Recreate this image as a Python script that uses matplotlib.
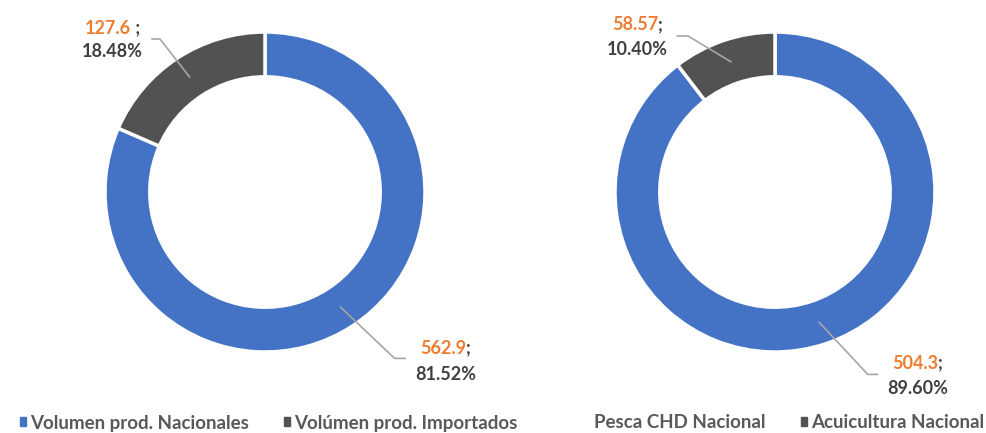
import matplotlib
matplotlib.use("Agg")
import matplotlib.pyplot as plt
from matplotlib.patches import Patch
import numpy as np

plt.rcParams['font.family'] = ['Lato', 'DejaVu Sans']

# ---- data ----
left_labels = ["Volumen prod. Nacionales", "Volúmen prod. Importados"]
left_values = [562.9, 127.6]
left_pcts = ["81.52%", "18.48%"]
left_value_text = ["562.9", "127.6"]
left_sep = [";", " ;"]

right_labels = ["Pesca CHD Nacional", "Acuicultura Nacional"]
right_values = [504.3, 58.57]
right_pcts = ["89.60%", "10.40%"]
right_value_text = ["504.3", "58.57"]
right_sep = [";", ";"]

BLUE = "#4472C4"
GRAY = "#525252"
ORANGE = "#ED7D31"
DARK = "#404040"
LEG = "#595959"
LINE = "#A6A6A6"

W, H = 987, 433
fig = plt.figure(figsize=(W / 100, H / 100), dpi=100)

def px_axes(cx, cy, r):
    return fig.add_axes([(cx - r) / W, (H - cy - r) / H, 2 * r / W, 2 * r / H])

axL = px_axes(265, 192, 160)
axR = px_axes(775, 192, 160)

# label layout: (elbow, end, text center x, line1 y, line2 y) in data units
layoutL = [
    dict(elbow=(0.81, -1.04), end=(0.875, -1.04), cx=1.13, y1=-0.975, y2=-1.14),
    dict(elbow=(-0.656, 0.956), end=(-0.706, 0.956), cx=-0.955, y1=1.025, y2=0.88),
]
layoutR = [
    dict(elbow=(0.58, -1.14), end=(0.64, -1.14), cx=0.89, y1=-1.07, y2=-1.225),
    dict(elbow=(-0.544, 0.975), end=(-0.61, 0.975), cx=-0.86, y1=1.045, y2=0.89),
]

FS = 13
texts_to_fix = []

def draw_donut(ax, values, vtexts, seps, pcts, layout):
    wedges, _ = ax.pie(values, colors=[BLUE, GRAY], startangle=90, counterclock=False,
                       radius=1.0, wedgeprops=dict(width=0.28, edgecolor="white", linewidth=2.5))
    ax.set_xlim(-1, 1)
    ax.set_ylim(-1, 1)
    ax.set_aspect("equal")
    ax.axis("off")
    for w, vt, sp, pc, lay in zip(wedges, vtexts, seps, pcts, layout):
        ang = np.deg2rad((w.theta1 + w.theta2) / 2)
        r0 = 0.86
        sx, sy = r0 * np.cos(ang), r0 * np.sin(ang)
        ax.plot([sx, lay["elbow"][0], lay["end"][0]], [sy, lay["elbow"][1], lay["end"][1]],
                color=LINE, lw=1.2, clip_on=False, zorder=5)
        t1 = ax.text(lay["cx"], lay["y1"], vt, color=ORANGE, fontsize=FS, fontweight="bold",
                     ha="left", va="center", clip_on=False)
        t2 = ax.text(lay["cx"], lay["y1"], sp, color=DARK, fontsize=FS, fontweight="bold",
                     ha="left", va="center", clip_on=False)
        ax.text(lay["cx"], lay["y2"], pc, color=DARK, fontsize=FS, fontweight="bold",
                ha="center", va="center", clip_on=False)
        texts_to_fix.append((ax, t1, t2, lay["cx"], lay["y1"]))

draw_donut(axL, left_values, left_value_text, left_sep, left_pcts, layoutL)
draw_donut(axR, right_values, right_value_text, right_sep, right_pcts, layoutR)

# center the two-colour first line
fig.canvas.draw()
rend = fig.canvas.get_renderer()
for ax, t1, t2, cx, y in texts_to_fix:
    w1 = t1.get_window_extent(rend).width
    w2 = t2.get_window_extent(rend).width
    cxp, cyp = ax.transData.transform((cx, y))
    left = cxp - (w1 + w2) / 2
    inv = ax.transData.inverted()
    t1.set_position(inv.transform((left, cyp)))
    t2.set_position(inv.transform((left + w1, cyp)))

# legends
hL = [Patch(color=BLUE), Patch(color=GRAY)]
hR = [Patch(color="white"), Patch(color=GRAY)]
legkw = dict(ncol=2, frameon=False, handlelength=0.33, handleheight=0.33, handletextpad=0.22,
             columnspacing=1.85, prop=dict(size=13.5, weight="bold"), labelcolor=LEG,
             loc="center left", borderaxespad=0, borderpad=0)
legL = fig.legend(hL, left_labels, bbox_to_anchor=(20 / W, 1 - 423 / H), **legkw)
legR = fig.legend(hR, right_labels, bbox_to_anchor=(584 / W, 1 - 423 / H), **legkw)

fig.savefig("out.png", dpi=100)
